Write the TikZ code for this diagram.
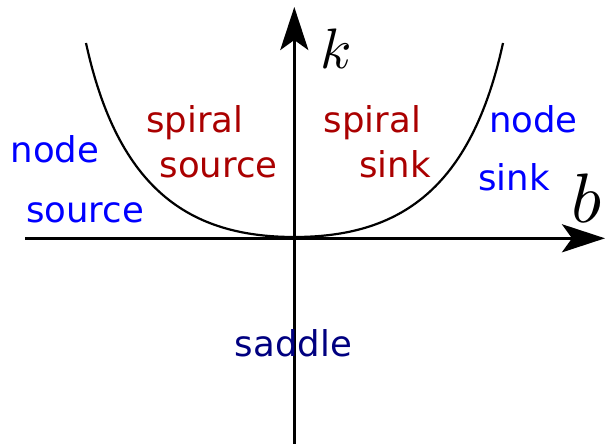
\documentclass[tikz,border=0pt]{standalone}
\usepackage{fontspec}
\usepackage{unicode-math}
\setmainfont{DejaVu Sans}
\setmathfont{Latin Modern Math}
\usetikzlibrary{arrows.meta}
\definecolor{nodeblue}{RGB}{0,0,255}
\definecolor{spiralred}{RGB}{170,0,0}
\definecolor{saddlenavy}{RGB}{0,0,128}
\begin{document}
\begin{tikzpicture}[x=1pt,y=-1pt,
  lbl/.style={inner sep=0pt,anchor=base,font=\fontsize{35.5}{40}\selectfont},
  axis/.style={line width=3.3pt,-{Stealth[length=43pt,width=28pt,inset=10pt]}},
  curve/.style={line width=2.2pt}]
\useasboundingbox (0,0) rectangle (605,444);
% curve
\coordinate (cl) at (86,43);
\coordinate (c0) at (294.3,237);
\coordinate (cr) at (503,43);
\draw[curve] (cl) .. controls (118,190) and (190,237) .. (c0)
  .. controls (399,237) and (471,190) .. (cr);
% axes
\coordinate (xs) at (25,238.3);
\coordinate (xe) at (605,238.3);
\coordinate (ys) at (294.3,444);
\coordinate (ye) at (294.3,7);
\draw[axis] (xs) -- (xe);
\draw[axis] (ys) -- (ye);
% axis labels
\node[inner sep=0pt,anchor=base,font=\fontsize{57}{60}\selectfont] (k) at (336,68) {$k$};
\node[inner sep=0pt,anchor=base,font=\fontsize{70}{70}\selectfont] (b) at (587,222) {$b$};
% region labels
\node[lbl,text=nodeblue] (nl) at (55,162) {node};
\node[lbl,text=nodeblue] (sl) at (85,222) {source};
\node[lbl,text=spiralred] (spl) at (195,132) {spiral};
\node[lbl,text=spiralred] (srl) at (218.5,177) {source};
\node[lbl,text=spiralred] (spr) at (372.5,132) {spiral};
\node[lbl,text=spiralred] (skr) at (395,177) {sink};
\node[lbl,text=nodeblue] (nr) at (533.5,132) {node};
\node[lbl,text=nodeblue] (sr) at (514,190) {sink};
\node[lbl,text=saddlenavy] (sd) at (293.5,356) {saddle};
\end{tikzpicture}
\end{document}
